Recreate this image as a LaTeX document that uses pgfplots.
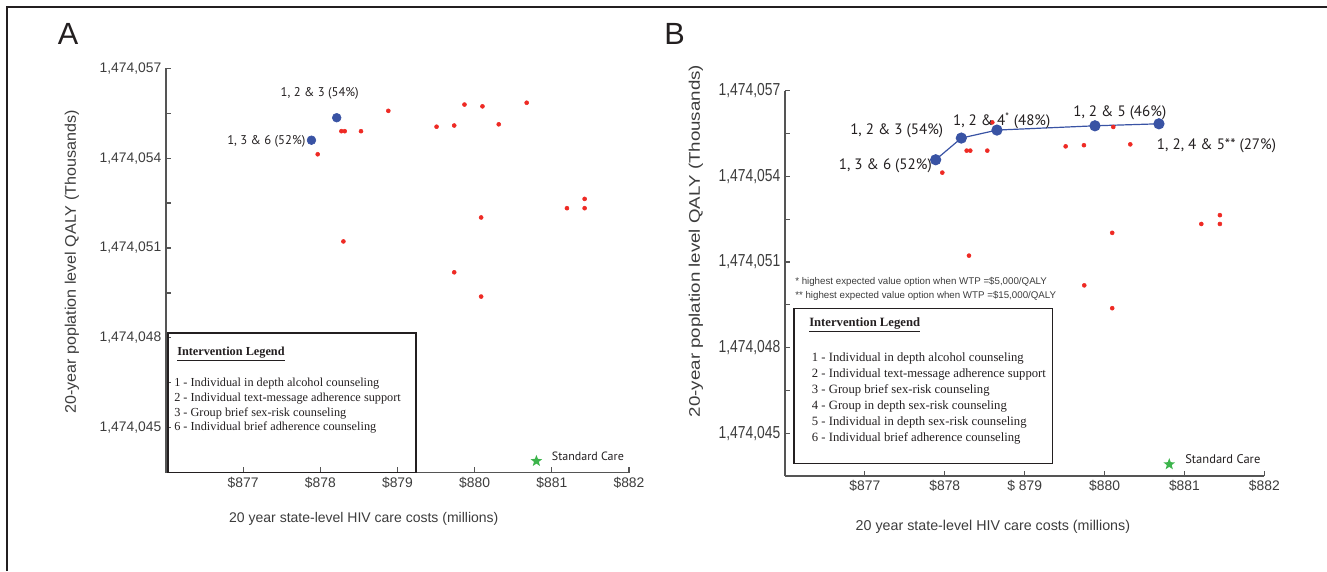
\documentclass[border=0pt]{standalone}
\usepackage{pgfplots}
\pgfplotsset{compat=1.18}
\usepackage{graphicx}
\usepackage{fontspec}
\setmainfont{Liberation Sans}
\newfontfamily\lab{PT Sans}
\newfontfamily\leg{Liberation Serif}

\definecolor{ptred}{HTML}{EE2A24}
\definecolor{ptblue}{HTML}{3953A4}
\definecolor{ptgreen}{HTML}{3CB44B}
\definecolor{axgray}{HTML}{555555}
\definecolor{tkgray}{HTML}{3C3C3C}
\definecolor{framec}{HTML}{231F20}

% filled five-pointed star
\pgfdeclareplotmark{fstar}{%
  \pgfpathmoveto{\pgfpointpolar{90}{\pgfplotmarksize}}%
  \pgfpathlineto{\pgfpointpolar{126}{0.42\pgfplotmarksize}}%
  \pgfpathlineto{\pgfpointpolar{162}{\pgfplotmarksize}}%
  \pgfpathlineto{\pgfpointpolar{198}{0.42\pgfplotmarksize}}%
  \pgfpathlineto{\pgfpointpolar{234}{\pgfplotmarksize}}%
  \pgfpathlineto{\pgfpointpolar{270}{0.42\pgfplotmarksize}}%
  \pgfpathlineto{\pgfpointpolar{306}{\pgfplotmarksize}}%
  \pgfpathlineto{\pgfpointpolar{342}{0.42\pgfplotmarksize}}%
  \pgfpathlineto{\pgfpointpolar{18}{\pgfplotmarksize}}%
  \pgfpathlineto{\pgfpointpolar{54}{0.42\pgfplotmarksize}}%
  \pgfpathclose\pgfusepathqfill}

% y values are QALY (thousands) minus 1,474,000
\pgfplotstableread{
x y
877.966 54.13
878.273 54.90
878.316 54.90
878.527 54.90
878.881 55.58
879.506 55.05
879.735 55.09
879.868 55.79
880.101 55.73
880.312 55.13
880.674 55.85
881.425 52.64
881.196 52.33
881.425 52.33
880.084 52.02
878.299 51.22
879.735 50.19
880.084 49.38
}\redA
\pgfplotstableread{
x y
877.885 54.60
878.212 55.35
}\blueA
\pgfplotstableread{
x y
877.969 54.13
878.274 54.90
878.319 54.90
878.532 54.90
878.595 55.89
879.513 55.05
879.742 55.09
880.109 55.73
880.322 55.12
881.444 52.64
881.211 52.33
881.444 52.33
880.096 52.02
878.303 51.22
879.746 50.18
880.096 49.38
}\redB
\pgfplotstableread{
x y
877.886 54.58
878.207 55.34
878.653 55.62
879.880 55.77
880.681 55.84
}\blueB

\newcommand{\Bt}[1]{\scalebox{1}[1.25]{#1}}

\pgfplotsset{
  cea/.style={
    scale only axis, clip=false,
    axis lines=left,
    axis line style={-, draw=axgray, line width=1.1pt},
    xmin=876, xmax=882, ymin=43.5, ymax=57,
    xtick={877,878,879,880,881,882},
    ytick={45,48,51,54,57},
    minor ytick={46.5,49.5,52.5,55.5},
    tick align=inside,
    major tick length=4pt, minor tick length=4pt,
    tick style={draw=axgray, line width=0.9pt},
    ticklabel style={font=\fontsize{10.4}{12}\selectfont, text=tkgray},
  },
}

\begin{document}
\begin{tikzpicture}
\path[use as bounding box] (0,0) rectangle (995.25pt,428.25pt);

% panel A
\begin{axis}[cea,
  at={(124.5pt,73.725pt)}, anchor=south west,
  width=347.25pt, height=303.3pt,
  xticklabels={\$877,\$878,\$879,\$880,\$881,\$882},
  yticklabels={{1,474,045},{1,474,048},{1,474,051},{1,474,054},{1,474,057}},
]
\addplot[only marks, mark=*, mark size=1.5pt, color=ptred] table[x=x,y=y] {\redA};
\addplot[only marks, mark=*, mark size=3.3pt, color=ptblue] table[x=x,y=y] {\blueA};
\addplot[only marks, mark=fstar, mark size=4.6pt, color=ptgreen] coordinates {(880.80,43.89)};
\end{axis}

% panel B
\begin{axis}[cea,
  at={(588.75pt,71.25pt)}, anchor=south west,
  width=359.5pt, height=288.975pt,
  xticklabels={\$877,\$878,\$ 879,\$880,\$881,\$882},
  yticklabels={\Bt{1,474,045},\Bt{1,474,048},\Bt{1,474,051},\Bt{1,474,054},\Bt{1,474,057}},
]
\addplot[only marks, mark=*, mark size=1.5pt, color=ptred] table[x=x,y=y] {\redB};
\addplot[ptblue, line width=0.9pt, mark=*, mark size=3.75pt] table[x=x,y=y] {\blueB};
\addplot[only marks, mark=fstar, mark size=4.6pt, color=ptgreen] coordinates {(880.81,43.91)};
\end{axis}

% texts, in pixel coordinates of the reference (y downwards)
\begin{scope}[x=0.75pt, y=-0.75pt, yshift=428.25pt]
\draw[framec, line width=1.5pt] (7,571) -- (7,7) -- (1327,7);
\node[font=\fontsize{23}{26}\selectfont, text=framec] at (68,34) {A};
\node[font=\fontsize{23}{26}\selectfont, text=framec] at (674.5,34) {B};

\node[rotate=90, font=\fontsize{11.5}{13}\selectfont, text=tkgray] at (72,262) {\scalebox{1.05}[1]{20-year poplation level QALY (Thousands)}};
\node[rotate=90, font=\fontsize{11.5}{13}\selectfont, text=tkgray] at (696,241) {\scalebox{1.22}[1]{20-year poplation level QALY (Thousands)}};
\node[font=\fontsize{10.5}{12}\selectfont, text=tkgray] at (363.8,519) {20 year state-level HIV care costs (millions)};
\node[font=\fontsize{10.7}{12}\selectfont, text=tkgray] at (992.9,526.7) {20 year state-level HIV care costs (millions)};

% A annotations
\node[font=\lab\fontsize{9.5}{11}\selectfont, text=framec] at (319.7,93.3) {1, 2 \& 3 (54\%)};
\node[font=\lab\fontsize{9.5}{11}\selectfont, text=framec] at (266.3,141) {1, 3 \& 6 (52\%)};
\node[font=\lab\fontsize{9}{11}\selectfont, text=framec, anchor=west, inner sep=0pt] at (551.7,456.7) {Standard Care};

\draw[framec, line width=0.9pt] (168,333) rectangle (416,472.7);
\begin{scope}[every node/.style={anchor=west, inner sep=0pt, text=framec, font=\leg\fontsize{9.2}{11}\selectfont}]
\node at (177,354) {\underline{\textbf{Intervention Legend}}};
\node at (174,383.3) {1 - Individual in depth alcohol counseling};
\node at (174,398.3) {2 - Individual text-message adherence support};
\node at (174,413.3) {3 - Group brief sex-risk counseling};
\node at (174,427.7) {6 - Individual brief adherence counseling};
\end{scope}

% B annotations
\begin{scope}[every node/.style={text=framec, font=\lab\fontsize{11.3}{13}\selectfont}]
\node at (885.3,166) {1, 3 \& 6 (52\%)};
\node at (896.7,131) {1, 2 \& 3 (54\%)};
\node at (1001.7,120.7) {1, 2 \& 4\textsuperscript{*} (48\%)};
\node at (1119.8,112.7) {1, 2 \& 5 (46\%)};
\node[anchor=west, inner sep=0pt] at (1156.7,145.3) {1, 2, 4 \& 5** (27\%)};
\end{scope}
\node[font=\lab\fontsize{9.4}{11}\selectfont, text=framec, anchor=west, inner sep=0pt] at (1185,459) {Standard Care};

\begin{scope}[every node/.style={anchor=west, inner sep=0pt, text=tkgray, font=\fontsize{7.3}{9}\selectfont}]
\node at (795,282.3) {* highest expected value option when WTP =\$5,000/QALY};
\node at (795,295.7) {** highest expected value option when WTP =\$15,000/QALY};
\end{scope}

\draw[framec, line width=0.9pt] (794,308.3) rectangle (1052.7,463.3);
\begin{scope}[every node/.style={anchor=west, inner sep=0pt, text=framec, font=\leg\fontsize{9.5}{11}\selectfont}]
\node at (809,325) {\underline{\textbf{Intervention Legend}}};
\node at (811.7,358.3) {1 - Individual in depth alcohol counseling};
\node at (811.7,374.3) {2 - Individual text-message adherence support};
\node at (811.7,390.3) {3 - Group brief sex-risk counseling};
\node at (811.7,406.3) {4 - Group in depth sex-risk counseling};
\node at (811.7,422.3) {5 - Individual in depth sex-risk counseling};
\node at (811.7,438.3) {6 - Individual brief adherence counseling};
\end{scope}
\end{scope}
\end{tikzpicture}
\end{document}
